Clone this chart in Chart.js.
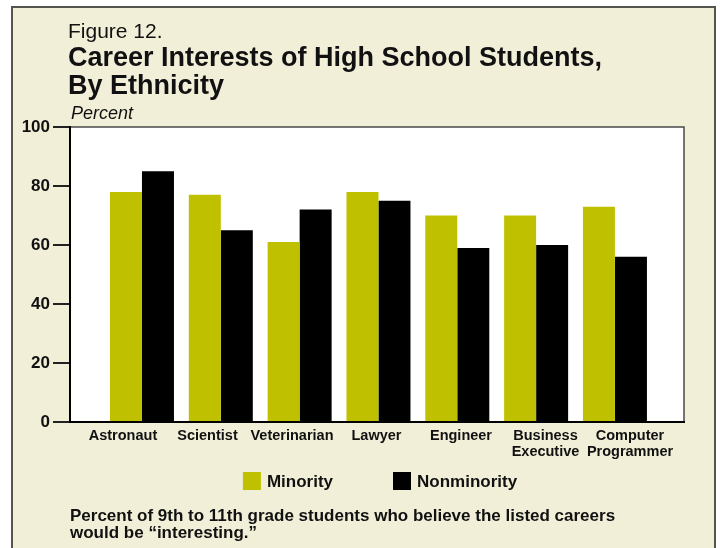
<!DOCTYPE html>
<html>
<head>
<meta charset="utf-8">
<title>Career Interests of High School Students, By Ethnicity</title>
<script src="https://cdn.jsdelivr.net/npm/chart.js@4.4.1/dist/chart.umd.min.js"></script>
<style>
  html, body { margin: 0; padding: 0; background: #fff; }
  canvas { display: block; }
</style>
</head>
<body>
<canvas id="careerChart" width="720" height="548"></canvas>
<script>
// Career categories and the share of students finding each "interesting"
const careers = ['Astronaut', 'Scientist', 'Veterinarian', 'Lawyer', 'Engineer',
                 ['Business', 'Executive'], ['Computer', 'Programmer']];
const minority = [78, 77, 61, 78, 70, 70, 73];
const nonminority = [85, 65, 72, 75, 59, 60, 56];
const yTicks = [0, 20, 40, 60, 80, 100];

const CREAM = '#f2efd9';
const OLIVE = '#bfc000';
const INK = '#111';
const FONT = "'Liberation Sans', Arial, Helvetica, sans-serif";

Chart.defaults.font.family = FONT;
Chart.defaults.color = INK;

// one tick per career so bar widths follow the group spacing
const careerTicks = (scale) => {
    scale.ticks = careers.map((c, i) => ({ value: i }));
};

// background panel, white plot frame, headings, legend and note
const figurePlugin = {
    id: 'figure',
    beforeDraw(chart) {
        const { ctx, chartArea: a } = chart;
        ctx.save();
        ctx.fillStyle = '#fff';
        ctx.fillRect(0, 0, chart.width, chart.height);
        ctx.fillStyle = CREAM;
        ctx.fillRect(12, 7, 703, 560);
        ctx.strokeStyle = '#55554d';
        ctx.lineWidth = 2;
        ctx.strokeRect(12, 7, 703, 560);

        ctx.fillStyle = '#fff';
        ctx.fillRect(a.left, a.top, a.right - a.left, a.bottom - a.top);
        ctx.strokeStyle = '#4a4a4a';
        ctx.lineWidth = 1.5;
        ctx.strokeRect(a.left, a.top, a.right - a.left, a.bottom - a.top);
        ctx.restore();
    },
    afterDraw(chart) {
        const { ctx } = chart;
        ctx.save();
        ctx.fillStyle = INK;
        ctx.textAlign = 'left';
        ctx.textBaseline = 'alphabetic';

        ctx.font = '21px ' + FONT;
        ctx.fillText('Figure 12.', 68, 38);
        ctx.font = 'bold 27px ' + FONT;
        ctx.fillText('Career Interests of High School Students,', 68, 66);
        ctx.fillText('By Ethnicity', 68, 94);
        ctx.font = 'italic 18px ' + FONT;
        ctx.fillText('Percent', 71, 119);

        // legend
        ctx.font = 'bold 17px ' + FONT;
        const items = chart.data.datasets.map(ds => ({
            label: ds.label, color: ds.backgroundColor, w: ctx.measureText(ds.label).width
        }));
        const box = 18, gap = 6, spacing = 60;
        const total = items.reduce((s, it) => s + box + gap + it.w, 0) + spacing * (items.length - 1);
        let x = 380 - total / 2;
        const top = 472;
        ctx.textBaseline = 'middle';
        items.forEach(it => {
            ctx.fillStyle = it.color;
            ctx.fillRect(x, top, box, box);
            ctx.fillStyle = INK;
            ctx.fillText(it.label, x + box + gap, top + box / 2 + 1);
            x += box + gap + it.w + spacing;
        });

        // note under the chart
        ctx.textBaseline = 'alphabetic';
        ctx.fillText('Percent of 9th to 11th grade students who believe the listed careers', 70, 521);
        ctx.fillText('would be \u201Cinteresting.\u201D', 70, 538);
        ctx.restore();
    }
};

const ctx = document.getElementById('careerChart').getContext('2d');

new Chart(ctx, {
    type: 'bar',
    data: {
        datasets: [
            {
                label: 'Minority',
                data: minority.map((v, i) => ({ x: i, y: v })),
                backgroundColor: OLIVE
            },
            {
                label: 'Nonminority',
                data: nonminority.map((v, i) => ({ x: i, y: v })),
                backgroundColor: '#000'
            }
        ]
    },
    options: {
        responsive: false,
        animation: false,
        layout: { padding: { top: 127, left: 20, right: 36, bottom: 86 } },
        datasets: {
            bar: { categoryPercentage: 0.812, barPercentage: 1.0 }
        },
        plugins: {
            legend: { display: false },
            tooltip: { enabled: false }
        },
        scales: {
            // positions the bar groups
            x: {
                type: 'linear',
                offset: false,
                bounds: 'data',
                min: -0.913,
                max: 6.876,
                afterBuildTicks: careerTicks,
                afterFit: (scale) => { scale.height = 0; },
                grid: { display: false, drawTicks: false },
                border: { display: false },
                ticks: { display: false }
            },
            // carries the career names
            names: {
                type: 'linear',
                axis: 'x',
                position: 'bottom',
                offset: false,
                bounds: 'data',
                min: -0.627,
                max: 6.639,
                afterBuildTicks: careerTicks,
                afterFit: (scale) => { scale.height = 40; },
                grid: { display: false, drawTicks: false, offset: false },
                border: { display: true, color: '#000', width: 2 },
                ticks: {
                    autoSkip: false,
                    maxRotation: 0,
                    padding: 6,
                    color: INK,
                    font: { size: 14.5, weight: 'bold', lineHeight: 1.12 },
                    callback: (value) => careers[value]
                }
            },
            y: {
                min: 0,
                max: 100,
                afterBuildTicks: (scale) => {
                    scale.ticks = yTicks.map(v => ({ value: v }));
                },
                afterFit: (scale) => { scale.width = 50; },
                grid: {
                    drawOnChartArea: false,
                    drawTicks: true,
                    tickLength: 17,
                    color: '#222',
                    lineWidth: 2
                },
                border: { display: true, color: '#000', width: 2 },
                ticks: {
                    padding: 3,
                    color: INK,
                    font: { size: 17, weight: 'bold' }
                }
            }
        }
    },
    plugins: [figurePlugin]
});
</script>
</body>
</html>
